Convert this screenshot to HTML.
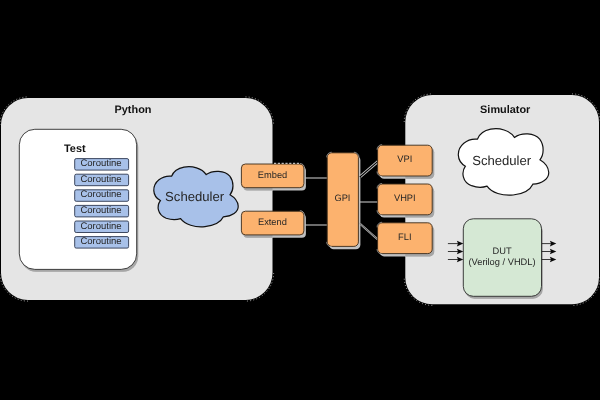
<!DOCTYPE html>
<html>
<head>
<meta charset="utf-8">
<title>cocotb overview</title>
<style>
html,body{margin:0;padding:0;background:#000;}
body{width:600px;height:400px;overflow:hidden;position:relative;font-family:"Liberation Sans",sans-serif;}
svg{position:absolute;left:0;top:0;display:block;will-change:transform;}
text{font-family:"Liberation Sans",sans-serif;fill:#262626;text-rendering:geometricPrecision;}
.b{font-weight:bold;font-size:10.9px;fill:#111;}
.r{font-size:9.5px;}
.q{font-size:9.3px;}
.s{font-size:13.1px;}
.o{fill:#fcb26e;stroke:#3a2a1a;stroke-width:0.9;}
.ln{stroke:#c4c4c4;stroke-width:1.1;fill:none;}
.c{fill:#a8c1e9;stroke:#2c3850;stroke-width:0.9;}
</style>
</head>
<body>
<svg width="600" height="400" viewBox="0 0 600 400">
<defs>
<clipPath id="grey">
<rect x="1" y="98" width="271.5" height="202" rx="27" ry="27"/>
<rect x="405.3" y="95" width="193.7" height="209.3" rx="27" ry="27"/>
</clipPath>
</defs>
<rect x="0" y="0" width="600" height="400" fill="#000"/>

<rect x="1" y="98" width="271.5" height="202" rx="27" ry="27" fill="#e5e5e5"/>
<rect x="405.3" y="95" width="193.7" height="209.3" rx="27" ry="27" fill="#e5e5e5"/>
<text class="b" transform="translate(133,113) scale(1,1)" text-anchor="middle">Python</text>
<text class="b" transform="translate(505.2,112.7) scale(1,1)" text-anchor="middle">Simulator</text>
<g fill="#c0c0c0">
<rect x="20.8" y="131.6" width="117.4" height="140.1" rx="15.5" ry="15.5"/>
<rect x="243.4" y="166.8" width="62.5" height="23.7" rx="4" ry="4"/>
<rect x="243.4" y="214.0" width="62.5" height="23.7" rx="4" ry="4"/>
<rect x="329.2" y="155.6" width="31.2" height="93.6" rx="4.5" ry="4.5"/>
<rect x="379.6" y="148.0" width="54.6" height="30.8" rx="4.5" ry="4.5"/>
<rect x="379.6" y="186.8" width="54.6" height="30.8" rx="4.5" ry="4.5"/>
<rect x="379.6" y="225.6" width="54.6" height="30.8" rx="4.5" ry="4.5"/>
<rect x="464.6" y="221.2" width="78.2" height="77.5" rx="10" ry="10"/>
</g>
<g fill="#a6a6a6" clip-path="url(#grey)">
<rect x="20.8" y="131.6" width="117.4" height="140.1" rx="15.5" ry="15.5"/>
<rect x="243.4" y="166.8" width="62.5" height="23.7" rx="4" ry="4"/>
<rect x="243.4" y="214.0" width="62.5" height="23.7" rx="4" ry="4"/>
<rect x="329.2" y="155.6" width="31.2" height="93.6" rx="4.5" ry="4.5"/>
<rect x="379.6" y="148.0" width="54.6" height="30.8" rx="4.5" ry="4.5"/>
<rect x="379.6" y="186.8" width="54.6" height="30.8" rx="4.5" ry="4.5"/>
<rect x="379.6" y="225.6" width="54.6" height="30.8" rx="4.5" ry="4.5"/>
<rect x="464.6" y="221.2" width="78.2" height="77.5" rx="10" ry="10"/>
</g>
<rect x="19.3" y="129.3" width="117.4" height="140.1" rx="15.5" ry="15.5" fill="#fff" stroke="#2a2a2a" stroke-width="0.9"/>
<text class="b" transform="translate(64,151.8) scale(1,1)" text-anchor="start">Test</text>
<rect x="74.7" y="158.6" width="53.9" height="11.5" rx="1.5" class="c"/>
<text class="r" transform="translate(101.0,166.1) scale(1,1.0)" text-anchor="middle">Coroutine</text>
<rect x="74.7" y="174.2" width="53.9" height="11.5" rx="1.5" class="c"/>
<text class="r" transform="translate(101.0,181.7) scale(1,1.0)" text-anchor="middle">Coroutine</text>
<rect x="74.7" y="189.8" width="53.9" height="11.5" rx="1.5" class="c"/>
<text class="r" transform="translate(101.0,197.2) scale(1,1.0)" text-anchor="middle">Coroutine</text>
<rect x="74.7" y="205.4" width="53.9" height="11.5" rx="1.5" class="c"/>
<text class="r" transform="translate(101.0,212.9) scale(1,1.0)" text-anchor="middle">Coroutine</text>
<rect x="74.7" y="221.0" width="53.9" height="11.5" rx="1.5" class="c"/>
<text class="r" transform="translate(101.0,228.5) scale(1,1.0)" text-anchor="middle">Coroutine</text>
<rect x="74.7" y="236.6" width="53.9" height="11.5" rx="1.5" class="c"/>
<text class="r" transform="translate(101.0,244.1) scale(1,1.0)" text-anchor="middle">Coroutine</text>
<path transform="translate(145,155) scale(0.2)" d="M133,106 C85,101 42,135 44,178 C45,200 59,218 77,228 C57,255 62,299 106,316 C131,325 160,324 178,318 C200,348 250,363 300,358 C345,353 380,334 392,309 C434,307 468,285 466,255 C464,230 444,210 425,199 C444,175 446,135 424,106 C399,77 340,74 306,98 C285,66 235,53 195,61 C165,67 142,84 133,106 Z" fill="#a8c1e9" stroke="#111" stroke-width="6"/>
<text class="s" transform="translate(194.6,201.0) scale(1,1.0)" text-anchor="middle">Scheduler</text>
<path class="ln" d="M304,178 H327.5"/>
<path class="ln" d="M304,225 H327.5"/>
<path d="M360.2,176.6 L377.8,161.6" stroke="#c9c9c9" stroke-width="2.8" fill="none"/><path d="M359.8,177 L378,161.4" stroke="#000" stroke-width="1.1" fill="none"/>
<path class="ln" d="M359.5,202 H378"/>
<path d="M360,223.8 L377.8,239.4" stroke="#b4b4b4" stroke-width="2.0" fill="none"/><path d="M359.8,223.6 L378,239.6" stroke="#000" stroke-width="0.5" fill="none"/>
<rect x="241.4" y="164" width="62.5" height="23.7" rx="4" ry="4" class="o"/>
<text class="q" transform="translate(272.5,177.7) scale(1,1.0)" text-anchor="middle">Embed</text>
<rect x="241.4" y="211.2" width="62.5" height="23.7" rx="4" ry="4" class="o"/>
<text class="q" transform="translate(272.4,224.9) scale(1,1.0)" text-anchor="middle">Extend</text>
<rect x="327.2" y="152.8" width="31.2" height="93.6" rx="4.5" ry="4.5" class="o"/>
<text class="q" transform="translate(342.4,200.7) scale(1,1.0)" text-anchor="middle">GPI</text>
<rect x="377.6" y="145.2" width="54.6" height="30.8" rx="4.5" ry="4.5" class="o"/>
<text class="q" transform="translate(404.8,162.1) scale(1,1.0)" text-anchor="middle">VPI</text>
<rect x="377.6" y="184" width="54.6" height="30.8" rx="4.5" ry="4.5" class="o"/>
<text class="q" transform="translate(404.8,201.4) scale(1,1.0)" text-anchor="middle">VHPI</text>
<rect x="377.6" y="222.8" width="54.6" height="30.8" rx="4.5" ry="4.5" class="o"/>
<text class="q" transform="translate(404.8,240.3) scale(1,1.0)" text-anchor="middle">FLI</text>
<path transform="translate(448.9,115.7) scale(0.2142,0.2215)" d="M133,106 C85,101 42,135 44,178 C45,200 59,218 77,228 C57,255 62,299 106,316 C131,325 160,324 178,318 C200,348 250,363 300,358 C345,353 380,334 392,309 C434,307 468,285 466,255 C464,230 444,210 425,199 C444,175 446,135 424,106 C399,77 340,74 306,98 C285,66 235,53 195,61 C165,67 142,84 133,106 Z" fill="#fff" stroke="#111" stroke-width="5.5"/>
<text class="s" transform="translate(501.7,165.4) scale(1,1.0)" text-anchor="middle">Scheduler</text>
<rect x="463.3" y="218.8" width="78.2" height="77.5" rx="10" ry="10" fill="#d5e8d4" stroke="#2a2a2a" stroke-width="0.9"/>
<text class="q" transform="translate(502.0,254.0) scale(1,1.0)" text-anchor="middle">DUT</text>
<text class="q" transform="translate(502.0,264.8) scale(1,1.0)" text-anchor="middle">(Verilog / VHDL)</text>
<g stroke="#1a1a1a" stroke-width="0.85" fill="#0a0a0a">
<path d="M447.9,243.6 H458.5"/><path stroke="none" d="M463.3,243.6 l-6.4,-2.8 l1.1,2.8 l-1.1,2.8 z"/>
<path d="M541.8,243.6 H551.5"/><path stroke="none" d="M556.3,243.6 l-6.4,-2.8 l1.1,2.8 l-1.1,2.8 z"/>
<path d="M447.9,251.5 H458.5"/><path stroke="none" d="M463.3,251.5 l-6.4,-2.8 l1.1,2.8 l-1.1,2.8 z"/>
<path d="M541.8,251.5 H551.5"/><path stroke="none" d="M556.3,251.5 l-6.4,-2.8 l1.1,2.8 l-1.1,2.8 z"/>
<path d="M447.9,259.5 H458.5"/><path stroke="none" d="M463.3,259.5 l-6.4,-2.8 l1.1,2.8 l-1.1,2.8 z"/>
<path d="M541.8,259.5 H551.5"/><path stroke="none" d="M556.3,259.5 l-6.4,-2.8 l1.1,2.8 l-1.1,2.8 z"/>
</g>
<path d="M-0.10,125.00 A28.1,28.1 0 0 1 28.00,96.90 M245.50,96.90 A28.1,28.1 0 0 1 273.60,125.00 M273.60,273.00 A28.1,28.1 0 0 1 245.50,301.10 M28.00,301.10 A28.1,28.1 0 0 1 -0.10,273.00 M404.20,122.00 A28.1,28.1 0 0 1 432.30,93.90 M572.00,93.90 A28.1,28.1 0 0 1 600.10,122.00 M600.10,277.30 A28.1,28.1 0 0 1 572.00,305.40 M432.30,305.40 A28.1,28.1 0 0 1 404.20,277.30" fill="none" stroke="#fff" stroke-width="0.8" stroke-opacity="0.8" stroke-dasharray="1 2.2"/>
<path d="M299.90,163.40 A4.6,4.6 0 0 1 304.50,168.00 M299.90,210.60 A4.6,4.6 0 0 1 304.50,215.20 M326.60,157.30 A5.1,5.1 0 0 1 331.70,152.20 M353.90,152.20 A5.1,5.1 0 0 1 359.00,157.30 M326.60,241.90 A5.1,5.1 0 0 0 331.70,247.00 M377.00,149.70 A5.1,5.1 0 0 1 382.10,144.60 M377.00,171.50 A5.1,5.1 0 0 0 382.10,176.60 M377.00,188.50 A5.1,5.1 0 0 1 382.10,183.40 M377.00,210.30 A5.1,5.1 0 0 0 382.10,215.40 M377.00,227.30 A5.1,5.1 0 0 1 382.10,222.20 M377.00,249.10 A5.1,5.1 0 0 0 382.10,254.20" fill="none" stroke="#fff" stroke-width="0.6" stroke-opacity="0.75"/>
<path d="M274,163.3 H300" fill="none" stroke="#fff" stroke-width="0.9" stroke-dasharray="2.2 1.6"/>
</svg>
</body>
</html>
